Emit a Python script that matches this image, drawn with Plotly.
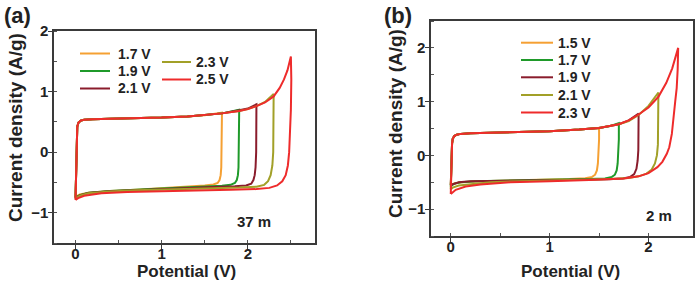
import plotly.graph_objects as go

# ---------------- data ----------------
# Panel (a), 37 m
a_labels = ["1.7 V", "1.9 V", "2.1 V", "2.3 V", "2.5 V"]
a17_x = [0, 0.004, 0.008, 0.013, 0.02, 0.035, 0.06, 0.1, 0.2, 0.4, 0.7, 1.0, 1.3, 1.5, 1.7,
         1.7, 1.697, 1.692, 1.685, 1.672, 1.65, 1.6, 1.5, 1.3, 1.0, 0.7, 0.4, 0.15, 0.05, 0]
a17_y = [-0.74, -0.4, 0.0, 0.3, 0.42, 0.49, 0.52, 0.535, 0.545, 0.55, 0.555, 0.57, 0.59, 0.61, 0.65,
         0.3, 0.0, -0.25, -0.38, -0.46, -0.51, -0.535, -0.55, -0.57, -0.6, -0.62, -0.64, -0.67, -0.70, -0.74]
a19_x = [0, 0.004, 0.008, 0.013, 0.02, 0.035, 0.06, 0.1, 0.2, 0.4, 0.7, 1.0, 1.3, 1.5, 1.7, 1.9,
         1.9, 1.897, 1.892, 1.885, 1.872, 1.85, 1.8, 1.7, 1.5, 1.3, 1.0, 0.7, 0.4, 0.15, 0.05, 0]
a19_y = [-0.75, -0.4, 0.0, 0.3, 0.42, 0.49, 0.52, 0.535, 0.545, 0.55, 0.555, 0.57, 0.59, 0.61, 0.64, 0.70,
         0.3, 0.0, -0.25, -0.38, -0.46, -0.51, -0.54, -0.555, -0.565, -0.58, -0.6, -0.62, -0.64, -0.67, -0.71, -0.75]
a21_x = [0, 0.004, 0.008, 0.013, 0.02, 0.035, 0.06, 0.1, 0.2, 0.4, 0.7, 1.0, 1.3, 1.5, 1.7, 1.9, 2.0, 2.1,
         2.1, 2.097, 2.09, 2.08, 2.065, 2.04, 1.98, 1.85, 1.6, 1.3, 1.0, 0.7, 0.4, 0.15, 0.05, 0]
a21_y = [-0.76, -0.4, 0.0, 0.3, 0.42, 0.49, 0.52, 0.535, 0.545, 0.55, 0.555, 0.57, 0.59, 0.61, 0.64, 0.69, 0.72, 0.79,
         0.3, 0.0, -0.25, -0.38, -0.46, -0.52, -0.55, -0.565, -0.575, -0.59, -0.605, -0.625, -0.645, -0.675, -0.715, -0.76]
a23_x = [0, 0.004, 0.008, 0.013, 0.02, 0.035, 0.06, 0.1, 0.2, 0.4, 0.7, 1.0, 1.3, 1.5, 1.7, 1.9, 2.0, 2.1, 2.2, 2.3,
         2.3, 2.295, 2.285, 2.265, 2.235, 2.19, 2.1, 1.9, 1.6, 1.3, 1.0, 0.7, 0.4, 0.15, 0.05, 0]
a23_y = [-0.77, -0.4, 0.0, 0.3, 0.42, 0.49, 0.52, 0.535, 0.545, 0.55, 0.555, 0.57, 0.59, 0.61, 0.64, 0.68, 0.71, 0.76, 0.83, 0.96,
         0.4, 0.0, -0.22, -0.38, -0.48, -0.54, -0.57, -0.585, -0.595, -0.605, -0.615, -0.63, -0.65, -0.68, -0.72, -0.77]
a25_x = [0, 0.004, 0.008, 0.013, 0.02, 0.035, 0.06, 0.1, 0.2, 0.4, 0.7, 1.0, 1.3, 1.5, 1.7, 1.9, 2.0, 2.1, 2.2, 2.3, 2.37, 2.42, 2.46, 2.5,
         2.505, 2.5, 2.49, 2.48, 2.465, 2.44, 2.4, 2.34, 2.25, 2.1, 1.8, 1.4, 1.0, 0.6, 0.3, 0.1, 0.03, 0]
a25_y = [-0.79, -0.4, 0.0, 0.3, 0.42, 0.49, 0.52, 0.535, 0.545, 0.55, 0.555, 0.57, 0.59, 0.61, 0.64, 0.68, 0.71, 0.76, 0.82, 0.92, 1.06, 1.2, 1.35, 1.58,
         1.2, 0.7, 0.3, 0.0, -0.22, -0.38, -0.48, -0.55, -0.59, -0.61, -0.62, -0.63, -0.64, -0.66, -0.68, -0.72, -0.76, -0.79]

# Panel (b), 2 m
b_labels = ["1.5 V", "1.7 V", "1.9 V", "2.1 V", "2.3 V"]
b15_x = [0, 0.004, 0.008, 0.013, 0.02, 0.035, 0.06, 0.1, 0.2, 0.4, 0.7, 1.0, 1.3, 1.5,
         1.5, 1.495, 1.488, 1.478, 1.46, 1.43, 1.36, 1.2, 0.9, 0.6, 0.3, 0.12, 0.04, 0]
b15_y = [-0.55, -0.3, 0.05, 0.22, 0.31, 0.36, 0.385, 0.4, 0.41, 0.42, 0.43, 0.45, 0.48, 0.51,
         0.3, 0.05, -0.15, -0.28, -0.36, -0.4, -0.425, -0.44, -0.45, -0.46, -0.48, -0.5, -0.52, -0.55]
b17_x = [0, 0.004, 0.008, 0.013, 0.02, 0.035, 0.06, 0.1, 0.2, 0.4, 0.7, 1.0, 1.3, 1.5, 1.6, 1.7,
         1.7, 1.695, 1.688, 1.678, 1.66, 1.63, 1.56, 1.4, 1.1, 0.8, 0.5, 0.25, 0.1, 0.03, 0]
b17_y = [-0.58, -0.3, 0.05, 0.22, 0.31, 0.36, 0.385, 0.4, 0.41, 0.42, 0.43, 0.45, 0.48, 0.51, 0.54, 0.6,
         0.3, 0.05, -0.15, -0.28, -0.36, -0.4, -0.43, -0.44, -0.45, -0.46, -0.47, -0.48, -0.5, -0.53, -0.58]
b19_x = [0, 0.004, 0.008, 0.013, 0.02, 0.035, 0.06, 0.1, 0.2, 0.4, 0.7, 1.0, 1.3, 1.5, 1.7, 1.8, 1.9,
         1.9, 1.897, 1.89, 1.878, 1.855, 1.815, 1.74, 1.6, 1.3, 1.0, 0.7, 0.4, 0.2, 0.08, 0.02, 0]
b19_y = [-0.55, -0.3, 0.05, 0.22, 0.31, 0.36, 0.385, 0.4, 0.41, 0.42, 0.43, 0.45, 0.48, 0.51, 0.58, 0.65, 0.78,
         0.4, 0.1, -0.1, -0.25, -0.35, -0.4, -0.43, -0.445, -0.455, -0.46, -0.465, -0.47, -0.48, -0.5, -0.53, -0.55]
b21_x = [0, 0.004, 0.008, 0.013, 0.02, 0.035, 0.06, 0.1, 0.2, 0.4, 0.7, 1.0, 1.3, 1.5, 1.7, 1.8, 1.9, 2.0, 2.1,
         2.1, 2.095, 2.085, 2.065, 2.03, 1.98, 1.9, 1.8, 1.6, 1.3, 1.0, 0.7, 0.4, 0.2, 0.08, 0.02, 0]
b21_y = [-0.63, -0.3, 0.05, 0.22, 0.31, 0.36, 0.385, 0.4, 0.41, 0.42, 0.43, 0.45, 0.48, 0.51, 0.58, 0.64, 0.75, 0.92, 1.17,
         0.6, 0.2, 0.0, -0.15, -0.27, -0.34, -0.39, -0.42, -0.44, -0.45, -0.46, -0.48, -0.5, -0.53, -0.56, -0.6, -0.63]
b23_x = [0, 0.004, 0.008, 0.013, 0.02, 0.035, 0.06, 0.1, 0.2, 0.4, 0.7, 1.0, 1.3, 1.5, 1.7, 1.8, 1.9, 2.0, 2.1, 2.18, 2.24, 2.3,
         2.295, 2.285, 2.27, 2.25, 2.236, 2.21, 2.185, 2.14, 2.09, 2.0, 1.9, 1.75, 1.4, 1.0, 0.6, 0.3, 0.15, 0.05, 0]
b23_y = [-0.72, -0.3, 0.05, 0.22, 0.31, 0.36, 0.385, 0.4, 0.41, 0.42, 0.43, 0.45, 0.48, 0.51, 0.58, 0.65, 0.76, 0.89, 1.09, 1.35, 1.62, 2.0,
         1.6, 1.25, 1.0, 0.65, 0.4, 0.15, 0.03, -0.12, -0.22, -0.33, -0.39, -0.43, -0.46, -0.48, -0.5, -0.54, -0.58, -0.64, -0.72]

colors = ["#F5A033", "#1F9A2A", "#8A1C2C", "#A2A028", "#EE2B2B"]
a_x_range = [-0.25, 2.78]
a_y_range = [-1.5, 2]
b_x_range = [-0.2, 2.45]
b_y_range = [-1.5, 2.5]
x_title = "Potential (V)"
y_title = "Current density (A/g)"

# ---------------- figure ----------------
W, H = 700, 281
FONT = "Arial, Liberation Sans, sans-serif"
fig = go.Figure()

a_series = [(a17_x, a17_y), (a19_x, a19_y), (a21_x, a21_y), (a23_x, a23_y), (a25_x, a25_y)]
b_series = [(b15_x, b15_y), (b17_x, b17_y), (b19_x, b19_y), (b21_x, b21_y), (b23_x, b23_y)]

for (xs, ys), name, c in zip(a_series, a_labels, colors):
    fig.add_trace(go.Scatter(x=xs, y=ys, mode="lines", name=name, line=dict(color=c, width=2),
                             xaxis="x", yaxis="y", showlegend=False))
for (xs, ys), name, c in zip(b_series, b_labels, colors):
    fig.add_trace(go.Scatter(x=xs, y=ys, mode="lines", name=name, line=dict(color=c, width=2),
                             xaxis="x2", yaxis="y2", showlegend=False))

def px(x):
    return x / W

def py(y):
    return 1 - y / H

axis_common = dict(
    showline=True, linecolor="#3a3a3a", linewidth=1.5, mirror=True, automargin=False,
    ticks="outside", ticklen=4, tickwidth=1.3, tickcolor="#3a3a3a",
    showgrid=False, zeroline=False,
    tickfont=dict(family=FONT, size=15, color="#222", weight="bold"),
    minor=dict(ticks="inside", ticklen=3, tickwidth=1, tickcolor="#555", dtick=0.5, showgrid=False),
)

fig.update_layout(
    width=W, height=H,
    margin=dict(l=0, r=0, t=0, b=0, pad=0, autoexpand=False),
    paper_bgcolor="white", plot_bgcolor="white",
    xaxis=dict(domain=[px(54), px(315)], range=a_x_range, dtick=1, tick0=0, anchor="y",
               ticklabelstandoff=-8, **axis_common),
    yaxis=dict(domain=[py(243), py(31)], range=a_y_range, dtick=1, tick0=0, anchor="x",
               ticklabelstandoff=-3, **axis_common),
    xaxis2=dict(domain=[px(431), px(693)], range=b_x_range, dtick=1, tick0=0, anchor="y2",
                ticklabelstandoff=-8, **axis_common),
    yaxis2=dict(domain=[py(236), py(21)], range=b_y_range, dtick=1, tick0=0, anchor="x2",
                ticklabelstandoff=-3, **axis_common),
)

annotations = []
shapes = []
txt_font = dict(family=FONT, size=14, color="#222")

# legend of panel (a): two columns
a_leg_pos = [(80, 110, 116, 53.5), (80, 110, 116, 71), (80, 110, 116, 88.5),
             (162, 191, 194, 62), (162, 191, 194, 79.5)]
for (x0, x1, xt, yy), name, c in zip(a_leg_pos, a_labels, colors):
    shapes.append(dict(type="line", xref="paper", yref="paper", x0=px(x0), x1=px(x1), y0=py(yy), y1=py(yy),
                       line=dict(color=c, width=2)))
    annotations.append(dict(text=f"<b>{name}</b>", xref="paper", yref="paper", x=px(xt), y=py(yy),
                            xanchor="left", yanchor="middle", showarrow=False, font=txt_font))

# legend of panel (b)
b_leg_y = [42.7, 60, 77.3, 95, 112.5]
for yy, name, c in zip(b_leg_y, b_labels, colors):
    shapes.append(dict(type="line", xref="paper", yref="paper", x0=px(521), x1=px(553), y0=py(yy), y1=py(yy),
                       line=dict(color=c, width=2)))
    annotations.append(dict(text=f"<b>{name}</b>", xref="paper", yref="paper", x=px(556), y=py(yy),
                            xanchor="left", yanchor="middle", showarrow=False, font=txt_font))

title_font = dict(family=FONT, size=17, color="#222")
ytitle_font = dict(family=FONT, size=19, color="#222")
annotations += [
    dict(text=f"<b>{x_title}</b>", xref="paper", yref="paper", x=px(186), y=py(271),
         xanchor="center", yanchor="middle", showarrow=False, font=title_font),
    dict(text=f"<b>{x_title}</b>", xref="paper", yref="paper", x=px(570), y=py(271),
         xanchor="center", yanchor="middle", showarrow=False, font=title_font),
    dict(text=f"<b>{y_title}</b>", xref="paper", yref="paper", x=px(15), y=py(128),
         xanchor="center", yanchor="middle", textangle=-90, showarrow=False, font=ytitle_font),
    dict(text=f"<b>{y_title}</b>", xref="paper", yref="paper", x=px(395), y=py(124),
         xanchor="center", yanchor="middle", textangle=-90, showarrow=False, font=ytitle_font),
    dict(text="<b>37 m</b>", xref="x", yref="y", x=2.07, y=-1.14, showarrow=False,
         font=dict(family=FONT, size=15, color="#222")),
    dict(text="<b>2 m</b>", xref="x2", yref="y2", x=2.11, y=-1.12, showarrow=False,
         font=dict(family=FONT, size=15, color="#222")),
    dict(text="<b>(a)</b>", xref="paper", yref="paper", x=px(2), y=py(15), xanchor="left", yanchor="middle",
         showarrow=False, font=dict(family=FONT, size=22, color="#222")),
    dict(text="<b>(b)</b>", xref="paper", yref="paper", x=px(382), y=py(15), xanchor="left", yanchor="middle",
         showarrow=False, font=dict(family=FONT, size=22, color="#222")),
]

fig.update_layout(annotations=annotations, shapes=shapes)

fig.write_html("out.html", config={"displayModeBar": False},
               post_script="document.body.style.margin='0';document.body.style.overflow='hidden';")
